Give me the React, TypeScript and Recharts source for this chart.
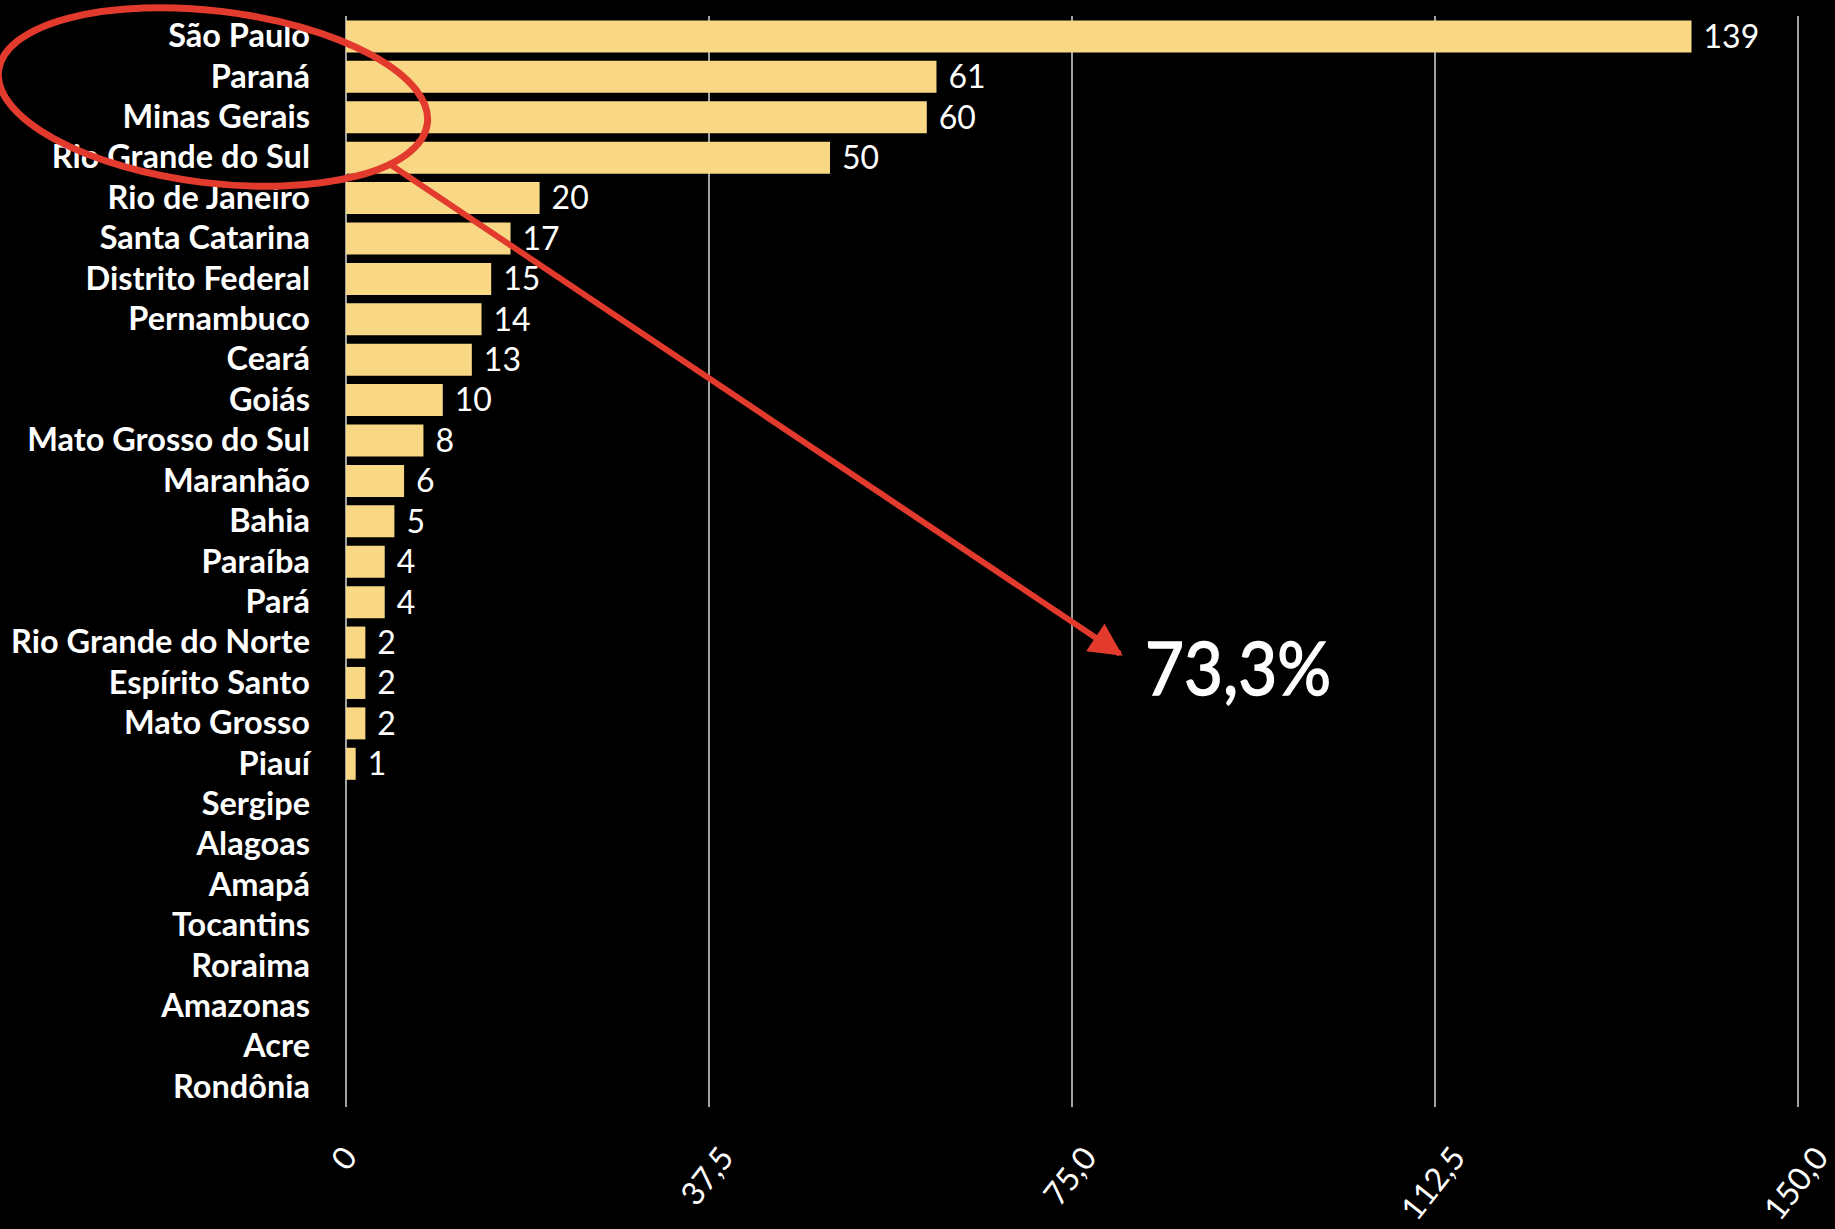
import React from 'react';
import { BarChart, Bar, XAxis, YAxis, CartesianGrid, LabelList } from 'recharts';

const states = [
  'São Paulo', 'Paraná', 'Minas Gerais', 'Rio Grande do Sul', 'Rio de Janeiro',
  'Santa Catarina', 'Distrito Federal', 'Pernambuco', 'Ceará', 'Goiás',
  'Mato Grosso do Sul', 'Maranhão', 'Bahia', 'Paraíba', 'Pará',
  'Rio Grande do Norte', 'Espírito Santo', 'Mato Grosso', 'Piauí', 'Sergipe',
  'Alagoas', 'Amapá', 'Tocantins', 'Roraima', 'Amazonas', 'Acre', 'Rondônia',
];
const counts = [139, 61, 60, 50, 20, 17, 15, 14, 13, 10, 8, 6, 5, 4, 4, 2, 2, 2, 1, 0, 0, 0, 0, 0, 0, 0, 0];
const xTicks = [0, 37.5, 75, 112.5, 150];
const highlightText = '73,3%';

const data = states.map((s, i) => ({ state: s, value: counts[i] }));

const FONT = 'Lato, "Open Sans", sans-serif';

const fmtTick = (v: number) => (v === 0 ? '0' : v.toFixed(1).replace('.', ','));

const X_FS = 32;
const ANG = 52;
const estLen = (s: string) =>
  s.split('').reduce((a, c) => a + (c === ',' ? 0.26 : 0.58), 0) * X_FS;

const XTick = (props: any) => {
  const { x, payload } = props;
  const label = fmtTick(payload.value);
  const L = estLen(label);
  const rad = (ANG * Math.PI) / 180;
  const h = L * Math.sin(rad) + 0.72 * X_FS * Math.cos(rad);
  const cx = x - 3;
  const cy = 1143 + h / 2;
  return (
    <text
      transform={`translate(${cx},${cy}) rotate(${-ANG})`}
      textAnchor="middle"
      dominantBaseline="central"
      fill="#ffffff"
      fontFamily={FONT}
      fontSize={X_FS}
    >
      {label}
    </text>
  );
};

const YTick = (props: any) => {
  const { y, payload } = props;
  return (
    <text
      x={310}
      y={y}
      dy={11}
      textAnchor="end"
      fill="#ffffff"
      fontFamily={FONT}
      fontWeight={700}
      fontSize={32.5}
    >
      {payload.value}
    </text>
  );
};

export default function App() {
  return (
    <div style={{ position: 'absolute', left: 0, top: 0, width: 1835, height: 1229, background: '#000', overflow: 'hidden' }}>
      <BarChart
        width={1835}
        height={1229}
        data={data}
        layout="vertical"
        margin={{ top: 16, right: 37, bottom: 92, left: 16 }}
        barCategoryGap="11%"
      >
        <CartesianGrid horizontal={false} vertical={true} stroke="#d8d8d8" strokeWidth={1.5} />
        <XAxis
          type="number"
          domain={[0, 150]}
          ticks={xTicks}
          axisLine={false}
          tickLine={false}
          tick={<XTick />}
          interval={0}
          height={30}
        />
        <YAxis
          type="category"
          dataKey="state"
          width={330}
          axisLine={false}
          tickLine={false}
          tick={<YTick />}
          interval={0}
        />
        <Bar dataKey="value" fill="#F8D884" isAnimationActive={false}>
          <LabelList
            dataKey="value"
            position="right"
            offset={12}
            fill="#ffffff"
            fontFamily={FONT}
            fontSize={32}
            formatter={(v: any) => (v ? String(v) : '')}
          />
        </Bar>
      </BarChart>
      <svg width={1835} height={1229} style={{ position: 'absolute', left: 0, top: 0, pointerEvents: 'none' }}>
        <defs>
          <marker id="ah" viewBox="0 0 10 10" refX="9" refY="5" markerWidth="6.5" markerHeight="5.5" orient="auto" markerUnits="strokeWidth">
            <path d="M0,0 L10,5 L0,10 z" fill="#E23B2E" />
          </marker>
        </defs>
        <ellipse cx={213} cy={97} rx={216} ry={86} transform="rotate(7 213 97)" fill="none" stroke="#E23B2E" strokeWidth={7} />
        <line x1={388} y1={163} x2={1120} y2={654} stroke="#E23B2E" strokeWidth={6} markerEnd="url(#ah)" />
        <text x={1145} y={695} fill="#ffffff" stroke="#ffffff" strokeWidth={1.5} fontFamily={FONT} fontSize={74} textLength={186} lengthAdjust="spacingAndGlyphs">{highlightText}</text>
      </svg>
    </div>
  );
}
